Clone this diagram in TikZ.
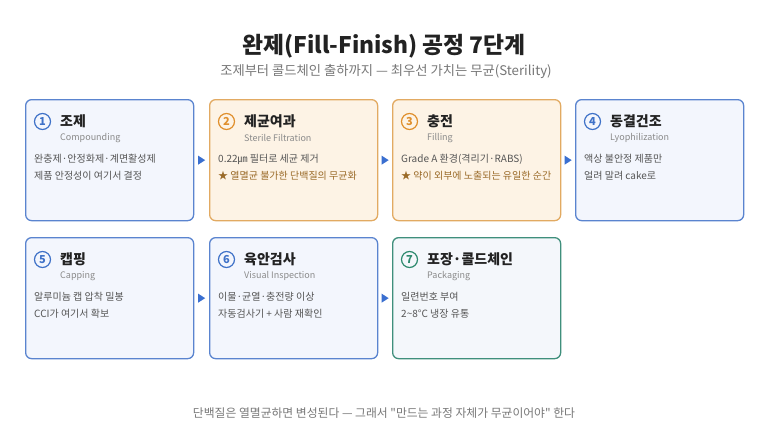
\documentclass[tikz,border=0pt]{standalone}
\usepackage{fontspec}
\setmainfont{Noto Sans CJK KR}[Ligatures=TeXOff]
\usetikzlibrary{calc}
\definecolor{bbord}{HTML}{5A84CF}
\definecolor{bfill}{HTML}{F3F6FD}
\definecolor{bnum}{HTML}{3F72C8}
\definecolor{obord}{HTML}{E2AA62}
\definecolor{ofill}{HTML}{FDF3E5}
\definecolor{onum}{HTML}{E08F2C}
\definecolor{tbord}{HTML}{3F8F7C}
\definecolor{tfill}{HTML}{F4F7FB}
\definecolor{tnum}{HTML}{2E8A6E}
\definecolor{ttl}{HTML}{222222}
\definecolor{engc}{HTML}{8A8A8A}
\definecolor{bodyc}{HTML}{555555}
\definecolor{starc}{HTML}{9A6A28}
\definecolor{subc}{HTML}{777777}
\definecolor{arrc}{HTML}{3A6FD0}
\tikzset{
  card/.style={draw=#1bord, fill=#1fill, line width=1.3pt, rounded corners=6pt,
    minimum width=168pt, minimum height=121pt, inner sep=0pt, anchor=north west},
  numc/.style={circle, draw=#1, text=#1, line width=1.2pt, minimum size=16pt, inner sep=0pt,
    font=\fontsize{11}{11}\selectfont\bfseries},
  cardtitle/.style={anchor=west, inner sep=0pt, text=ttl, font=\fontsize{14}{14}\selectfont\bfseries},
  engsub/.style={anchor=west, inner sep=0pt, text=engc, font=\fontsize{9}{9}\selectfont},
  bodyline/.style={anchor=west, inner sep=0pt, text=bodyc, font=\fontsize{10}{10}\selectfont},
  starline/.style={anchor=west, inner sep=0pt, text=starc, font=\fontsize{10}{10}\selectfont},
  tri/.style={fill=arrc, draw=none},
}
\newcommand{\gaptri}[3]{%
  \path (#1.east) -- coordinate[pos=0.5] (#3) (#2.west);
  \fill[tri] ($(#3)+(-3.5,-4.5)$) -- ($(#3)+(3.5,0)$) -- ($(#3)+(-3.5,4.5)$) -- cycle;}
\begin{document}
\begin{tikzpicture}[x=1pt,y=-1pt]
\useasboundingbox (0,0) rectangle (768,434);
\fill[white] (0,0) rectangle (768,434);
\node[text=ttl, font=\fontsize{22.8}{22.8}\selectfont\bfseries] (title) at (384,46) {완제(Fill-Finish) 공정 7단계};
\node[text=subc, font=\fontsize{13.3}{13.3}\selectfont] (subtitle) at (386,72) {조제부터 콜드체인 출하까지 — 최우선 가치는 무균(Sterility)};
\node[text=subc, font=\fontsize{11.8}{11.8}\selectfont] (footer) at (384,413) {단백질은 열멸균하면 변성된다 — 그래서 "만드는 과정 자체가 무균이어야" 한다};

% cards
\node[card=b] (c1) at (25,99) {};
\node[card=o] (c2) at (209,99) {};
\node[card=o] (c3) at (392,99) {};
\node[card=b] (c4) at (575,99) {};
\node[card=b] (c5) at (25,237) {};
\node[card=b] (c6) at (209,237) {};
\node[card=t] (c7) at (392,237) {};

% card 1
\node[numc=bnum] (n1) at (42.5,121.5) {1};
\node[cardtitle] (t1) at (60,121) {조제};
\node[engsub] (e1) at (60,138) {Compounding};
\node[bodyline] (l1a) at (34,159) {완충제·안정화제·계면활성제};
\node[bodyline] (l1b) at (34,176) {제품 안정성이 여기서 결정};
% card 2
\node[numc=onum] (n2) at (226.5,121.5) {2};
\node[cardtitle] (t2) at (244,121) {제균여과};
\node[engsub] (e2) at (244,138) {Sterile Filtration};
\node[bodyline] (l2a) at (218,159) {0.22㎛ 필터로 세균 제거};
\node[starline] (l2b) at (218,176) {★ 열멸균 불가한 단백질의 무균화};
% card 3
\node[numc=onum] (n3) at (409.5,121.5) {3};
\node[cardtitle] (t3) at (427,121) {충전};
\node[engsub] (e3) at (427,138) {Filling};
\node[bodyline] (l3a) at (401,159) {Grade A 환경(격리기·RABS)};
\node[starline] (l3b) at (401,176) {★ 약이 외부에 노출되는 유일한 순간};
% card 4
\node[numc=bnum] (n4) at (592.5,121.5) {4};
\node[cardtitle] (t4) at (610,121) {동결건조};
\node[engsub] (e4) at (610,138) {Lyophilization};
\node[bodyline] (l4a) at (584,159) {액상 불안정 제품만};
\node[bodyline] (l4b) at (584,176) {얼려 말려 cake로};
% card 5
\node[numc=bnum] (n5) at (42.5,259.5) {5};
\node[cardtitle] (t5) at (60,259) {캡핑};
\node[engsub] (e5) at (60,276) {Capping};
\node[bodyline] (l5a) at (34,297) {알루미늄 캡 압착 밀봉};
\node[bodyline] (l5b) at (34,314) {CCI가 여기서 확보};
% card 6
\node[numc=bnum] (n6) at (226.5,259.5) {6};
\node[cardtitle] (t6) at (244,259) {육안검사};
\node[engsub] (e6) at (244,276) {Visual Inspection};
\node[bodyline] (l6a) at (218,297) {이물·균열·충전량 이상};
\node[bodyline] (l6b) at (218,314) {자동검사기 + 사람 재확인};
% card 7
\node[numc=tnum] (n7) at (409.5,259.5) {7};
\node[cardtitle] (t7) at (427,259) {포장·콜드체인};
\node[engsub] (e7) at (427,276) {Packaging};
\node[bodyline] (l7a) at (401,297) {일련번호 부여};
\node[bodyline] (l7b) at (401,314) {2\char"7E 8°C 냉장 유통};

% arrows
\gaptri{c1}{c2}{a12}
\gaptri{c2}{c3}{a23}
\gaptri{c3}{c4}{a34}
\gaptri{c5}{c6}{a56}
\gaptri{c6}{c7}{a67}
\end{tikzpicture}
\end{document}
